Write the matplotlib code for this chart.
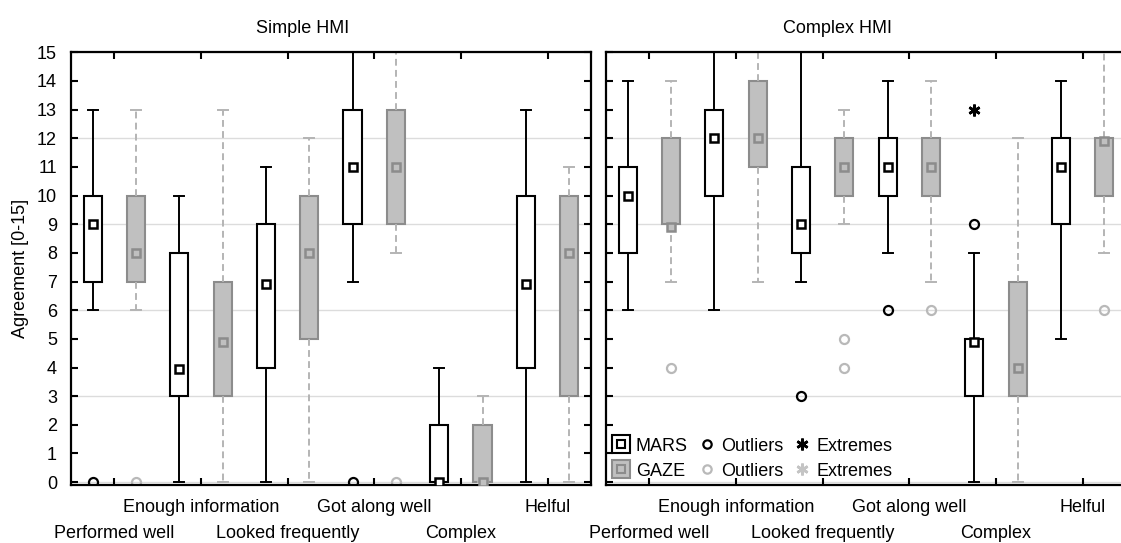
import numpy as np
import matplotlib
matplotlib.use('Agg')
import matplotlib.pyplot as plt
from matplotlib.lines import Line2D

plt.rcParams.update({'font.family': ['Liberation Sans', 'DejaVu Sans'], 'font.size': 13})

# Categories (x axis) and panel titles
categories = ['Performed well', 'Enough information', 'Looked frequently',
              'Got along well', 'Complex', 'Helful']
panels = ['Simple HMI', 'Complex HMI']

# Simple HMI - MARS
simple_mars_med = [9, 3.95, 6.9, 11, 0, 6.9]
simple_mars_q1 = [7, 3, 4, 9, 0, 4]
simple_mars_q3 = [10, 8, 9, 13, 2, 10]
simple_mars_lo = [6, 0, 0, 7, 0, 0]
simple_mars_hi = [13, 10, 11, 15, 4, 13]
simple_mars_out = [[0], [], [], [0], [], []]
simple_mars_ext = [[], [], [], [], [], []]

# Simple HMI - GAZE
simple_gaze_med = [8, 4.9, 8, 11, 0, 8]
simple_gaze_q1 = [7, 3, 5, 9, 0, 3]
simple_gaze_q3 = [10, 7, 10, 13, 2, 10]
simple_gaze_lo = [6, 0, 0, 8, 0, 0]
simple_gaze_hi = [13, 13, 12, 15, 3, 11]
simple_gaze_out = [[0], [], [], [0], [], []]
simple_gaze_ext = [[], [], [], [], [], []]

# Complex HMI - MARS
complex_mars_med = [10, 12, 9, 11, 4.9, 11]
complex_mars_q1 = [8, 10, 8, 10, 3, 9]
complex_mars_q3 = [11, 13, 11, 12, 5, 12]
complex_mars_lo = [6, 6, 7, 8, 0, 5]
complex_mars_hi = [14, 15, 15, 14, 8, 14]
complex_mars_out = [[], [], [3], [6], [9], []]
complex_mars_ext = [[], [], [], [], [13], []]

# Complex HMI - GAZE
complex_gaze_med = [8.9, 12, 11, 11, 4, 11.9]
complex_gaze_q1 = [9, 11, 10, 10, 3, 10]
complex_gaze_q3 = [12, 14, 12, 12, 7, 12]
complex_gaze_lo = [7, 7, 9, 7, 0, 8]
complex_gaze_hi = [14, 15, 13, 14, 12, 15]
complex_gaze_out = [[4], [], [4, 5], [6], [], [6]]
complex_gaze_ext = [[], [], [], [], [], []]

data = {
    'Simple HMI': {
        'MARS': (simple_mars_q1, simple_mars_med, simple_mars_q3, simple_mars_lo,
                 simple_mars_hi, simple_mars_out, simple_mars_ext),
        'GAZE': (simple_gaze_q1, simple_gaze_med, simple_gaze_q3, simple_gaze_lo,
                 simple_gaze_hi, simple_gaze_out, simple_gaze_ext),
    },
    'Complex HMI': {
        'MARS': (complex_mars_q1, complex_mars_med, complex_mars_q3, complex_mars_lo,
                 complex_mars_hi, complex_mars_out, complex_mars_ext),
        'GAZE': (complex_gaze_q1, complex_gaze_med, complex_gaze_q3, complex_gaze_lo,
                 complex_gaze_hi, complex_gaze_out, complex_gaze_ext),
    },
}

styles = {
    'MARS': dict(face='white', edge='black', whisk='black', ls='-', out='black', offset=0.5),
    'GAZE': dict(face='#c0c0c0', edge='#8c8c8c', whisk='#b4b4b4', ls=(0, (3.5, 2.2)),
                 out='#b9b9b9', offset=1.5),
}

fig = plt.figure(figsize=(11.21, 5.43), dpi=100)
ax1 = fig.add_axes([0.0633, 0.1068, 0.4638, 0.797])
# right panel runs past the figure edge (its right spine is cut off in the original)
ax2 = fig.add_axes([0.5406, 0.1068, 0.4638 * 12.3 / 12, 0.797])

tick_pos = np.arange(len(categories)) * 2 + 1

for ax, panel in zip([ax1, ax2], panels):
    for y in range(0, 16, 3):
        ax.axhline(y, color='#dcdcdc', lw=1, zorder=0)
    for series, st in styles.items():
        q1, med, q3, lo, hi, out, ext = data[panel][series]
        pos = np.arange(len(categories)) * 2 + st['offset']
        stats = [dict(q1=a, med=m, q3=b, whislo=l, whishi=h, fliers=f)
                 for a, m, b, l, h, f in zip(q1, med, q3, lo, hi, out)]
        ax.bxp(stats, positions=pos, widths=0.42, capwidths=0.23, patch_artist=True,
               boxprops=dict(facecolor=st['face'], edgecolor=st['edge'], linewidth=1.5),
               whiskerprops=dict(color=st['whisk'], linewidth=1.4, linestyle=st['ls']),
               capprops=dict(color=st['whisk'], linewidth=1.4),
               medianprops=dict(linewidth=0),
               flierprops=dict(marker='o', markerfacecolor='none', markeredgecolor=st['out'],
                               markersize=6.5, markeredgewidth=1.6),
               manage_ticks=False)
        ax.plot(pos, med, ls='none', marker='s', ms=6, mfc=st['face'], mec=st['edge'],
                mew=1.8, zorder=4)
        for p, e in zip(pos, ext):
            if e:
                ax.plot([p] * len(e), e, ls='none', marker=(6, 2, 0), ms=8.5,
                        color=st['out'], mew=1.9, zorder=4)

    ax.set_ylim(-0.1, 15)
    ax.set_yticks(range(16))
    # category labels staggered on two rows: odd ones upper (major), even ones lower (minor)
    ax.set_xticks(tick_pos[1::2], categories[1::2])
    ax.set_xticks(tick_pos[0::2], categories[0::2], minor=True)
    ax.tick_params(which='both', direction='in', length=5, width=1.5, top=True, right=True,
                   labelsize=13, colors='black')
    ax.tick_params(axis='x', which='major', pad=10)
    ax.tick_params(axis='x', which='minor', pad=28.5)
    ax.tick_params(axis='y', which='major', pad=10)
    for sp in ax.spines.values():
        sp.set_linewidth(1.6)

ax1.set_xlim(0, 12)
ax2.set_xlim(0, 12.3)
ax1.set_title(panels[0], x=0.446, pad=14, fontsize=13)
ax2.set_title(panels[1], x=0.446 * 12 / 12.3, pad=14, fontsize=13)

ax2.tick_params(labelleft=False)
ax1.set_ylabel('Agreement [0-15]', fontsize=13)
ax1.yaxis.set_label_coords(-0.080, 0.5)

# legend
mars_icon = (Line2D([], [], ls='none', marker='s', ms=13, mfc='white', mec='black', mew=1.5),
             Line2D([], [], ls='none', marker='s', ms=6, mfc='white', mec='black', mew=1.5))
gaze_icon = (Line2D([], [], ls='none', marker='s', ms=13, mfc='#c0c0c0', mec='#8c8c8c', mew=1.5),
             Line2D([], [], ls='none', marker='s', ms=6, mfc='#c0c0c0', mec='#8c8c8c', mew=1.5))
out_b = Line2D([], [], ls='none', marker='o', ms=6, mfc='none', mec='black', mew=1.6)
out_g = Line2D([], [], ls='none', marker='o', ms=6, mfc='none', mec='#b9b9b9', mew=1.6)
ext_b = Line2D([], [], ls='none', marker=(6, 2, 0), ms=8.5, color='black', mew=1.9)
ext_g = Line2D([], [], ls='none', marker=(6, 2, 0), ms=8.5, color='#c4c4c4', mew=1.9)
ax2.legend([mars_icon, gaze_icon, out_b, out_g, ext_b, ext_g],
           ['MARS', 'GAZE', 'Outliers', 'Outliers', 'Extremes', 'Extremes'],
           ncol=3, loc='lower left', bbox_to_anchor=(-0.012, -0.017), frameon=False,
           borderpad=0.2, handlelength=1.0, handletextpad=0.3, columnspacing=0.55,
           labelspacing=0.45, fontsize=13)

plt.savefig('out.png', dpi=100)
